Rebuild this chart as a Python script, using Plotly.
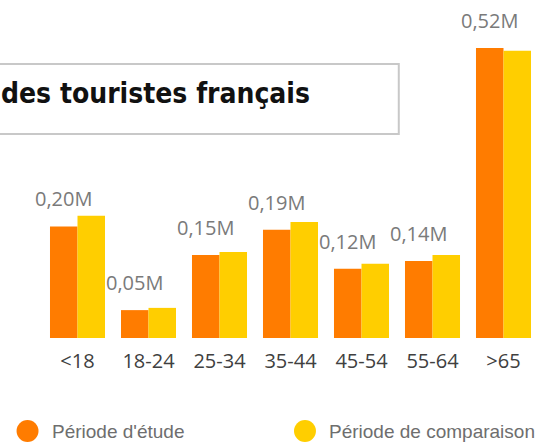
import plotly.graph_objects as go

categories = ["<18", "18-24", "25-34", "35-44", "45-54", "55-64", ">65"]
etude = [0.200, 0.050, 0.149, 0.194, 0.124, 0.138, 0.520]
comparaison = [0.219, 0.054, 0.154, 0.208, 0.133, 0.149, 0.515]
series_names = ["Période d'étude", "Période de comparaison"]
colors = ["#FF7C00", "#FFCE00"]
title_text = "des touristes français"

W, H = 558, 444
L, R, T, B = 41.5, 18.5, 10, 106
pw, ph = W - L - R, H - T - B

def px_x(x):
    return (x - L) / pw

def px_y(y):
    return (H - B - y) / ph

fig = go.Figure()
for name, vals, col in zip(series_names, [etude, comparaison], colors):
    fig.add_trace(go.Bar(x=categories, y=vals, name=name, marker=dict(color=col, line=dict(width=0)),
                         showlegend=False, hoverinfo="x+y"))

ymax = (H - B - T) / 557.7

bar_w_px = pw / len(categories) * (1 - 0.225) / 2
for c, v in zip(categories, etude):
    fig.add_annotation(x=c, y=v, xref="x", yref="y", text=("%.2fM" % v).replace(".", ","),
                       showarrow=False, yanchor="bottom", xanchor="center", xshift=-bar_w_px / 2, yshift=12,
                       font=dict(family="Open Sans", size=20, color="#7A7A7A"))

# title box
fig.add_shape(type="rect", xref="paper", yref="paper", x0=px_x(-10), x1=px_x(399), y0=px_y(134), y1=px_y(64),
              line=dict(color="#C8C8C8", width=2), fillcolor="rgba(255,255,255,0)", layer="above")
fig.add_annotation(xref="paper", yref="paper", x=px_x(-2), y=px_y(93), xanchor="left", yanchor="middle",
                   text="<b>" + title_text + "</b>", showarrow=False,
                   font=dict(family="DejaVu Sans Condensed", size=28, color="#111111"))

# legend
legend_pos = [(27, 50), (305, 327)]
for (cx, tx), name, col in zip(legend_pos, series_names, colors):
    r = 11
    fig.add_shape(type="circle", xref="paper", yref="paper", x0=px_x(cx - r), x1=px_x(cx + r),
                  y0=px_y(431 + r), y1=px_y(431 - r), fillcolor=col, line=dict(width=0))
    fig.add_annotation(xref="paper", yref="paper", x=px_x(tx), y=px_y(431), xanchor="left", yanchor="middle",
                       text=name, showarrow=False,
                       font=dict(family="Liberation Sans", size=19, color="#6E6E6E"))

fig.update_layout(
    width=W, height=H, margin=dict(l=L, r=R, t=T, b=B, pad=0, autoexpand=False),
    barmode="group", bargap=0.225, bargroupgap=0,
    plot_bgcolor="white", paper_bgcolor="white",
    xaxis=dict(showgrid=False, showline=False, zeroline=False, ticks="", automargin=False,
               range=[-0.5, len(categories) - 0.5], ticklabelstandoff=9,
               tickfont=dict(family="Open Sans", size=20, color="#404040")),
    yaxis=dict(visible=False, range=[0, ymax], showgrid=False, zeroline=False, automargin=False),
)
fig.write_html("out.html", config={"displayModeBar": False},
               post_script="document.body.style.margin='0';document.body.style.padding='0';document.body.style.overflow='hidden';")
